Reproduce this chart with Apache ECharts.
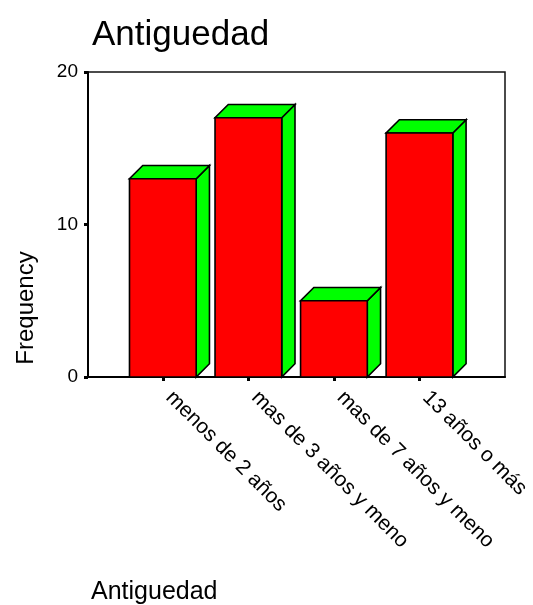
<!DOCTYPE html>
<html>
<head>
<meta charset="utf-8">
<script src="https://cdn.jsdelivr.net/npm/echarts@6/dist/echarts.min.js"></script>
<style>
  html, body { margin: 0; padding: 0; background: #fff; }
  #chart { width: 533px; height: 605px; }
</style>
</head>
<body>
<div id="chart"></div>
<script>
// Antiguedad: frequency per seniority band
const categories = ['menos de 2 años', 'mas de 3 años y meno', 'mas de 7 años y meno', '13 años o más'];
const frequencies = [13, 17, 5, 16];
const yTicks = [0, 10, 20];

const FONT = 'Liberation Sans, Arial, sans-serif';
const positions = categories.map((_, i) => i);

const chart = echarts.init(document.getElementById('chart'));

// 3D-style bar: red front face, green top and side faces
function renderBar(params, api) {
  const xi = api.value(0);
  const v = api.value(1);
  const top = api.coord([xi, v]);
  const base = api.coord([xi, 0]);
  const unit = api.size([1, 0])[0];
  const half = unit * 0.39;
  const d = unit * 0.155;
  const x0 = top[0] - half, x1 = top[0] + half;
  const yT = top[1], yB = base[1];
  const stroke = { stroke: '#000', lineWidth: 1.6, lineJoin: 'miter' };
  return {
    type: 'group',
    children: [
      { type: 'polygon', shape: { points: [[x1, yT], [x1 + d, yT - d], [x1 + d, yB - d], [x1, yB]] },
        style: Object.assign({ fill: '#00ff00' }, stroke) },
      { type: 'polygon', shape: { points: [[x0, yT], [x1, yT], [x1 + d, yT - d], [x0 + d, yT - d]] },
        style: Object.assign({ fill: '#00ff00' }, stroke) },
      { type: 'rect', shape: { x: x0, y: yT, width: x1 - x0, height: yB - yT },
        style: Object.assign({ fill: '#ff0000' }, stroke) }
    ]
  };
}

chart.setOption({
  animation: false,
  backgroundColor: '#fff',
  title: {
    text: 'Antiguedad',
    left: 87, top: 13,
    textStyle: { fontFamily: FONT, fontSize: 35, fontWeight: 'normal', color: '#000' }
  },
  grid: {
    left: 88, top: 72, right: 28, bottom: 228,
    show: true, borderColor: '#111', borderWidth: 1.5, backgroundColor: 'transparent'
  },
  xAxis: {
    type: 'value',
    min: -0.875, max: 4,
    axisLine: { show: true, onZero: false, lineStyle: { color: '#000', width: 2 } },
    axisTick: { show: true, customValues: positions, length: 4, lineStyle: { color: '#000', width: 3 } },
    axisLabel: {
      customValues: positions,
      formatter: v => categories[Math.round(v)],
      rotate: -45, margin: 11, padding: [0, 0, 0, 9],
      fontFamily: FONT, fontSize: 21, color: '#000'
    },
    splitLine: { show: false }
  },
  yAxis: {
    type: 'value',
    min: 0, max: 20, interval: 10,
    axisLine: { show: true, onZero: false, lineStyle: { color: '#000', width: 2 } },
    axisTick: { show: true, length: 4, lineStyle: { color: '#000', width: 3 } },
    axisLabel: {
      customValues: yTicks,
      margin: 10, padding: [4, 0, 0, 0],
      fontFamily: FONT, fontSize: 19, color: '#000'
    },
    splitLine: { show: false }
  },
  graphic: [
    { type: 'text', x: 26, y: 308, rotation: Math.PI / 2,
      style: { text: 'Frequency', fontFamily: FONT, fontSize: 24, fill: '#000', align: 'center', verticalAlign: 'middle' } },
    { type: 'text', x: 91, y: 592,
      style: { text: 'Antiguedad', fontFamily: FONT, fontSize: 25, fill: '#000', align: 'left', verticalAlign: 'middle' } }
  ],
  series: [{
    type: 'custom',
    renderItem: renderBar,
    clip: false,
    data: frequencies.map((f, i) => [positions[i], f])
  }]
});
</script>
</body>
</html>
